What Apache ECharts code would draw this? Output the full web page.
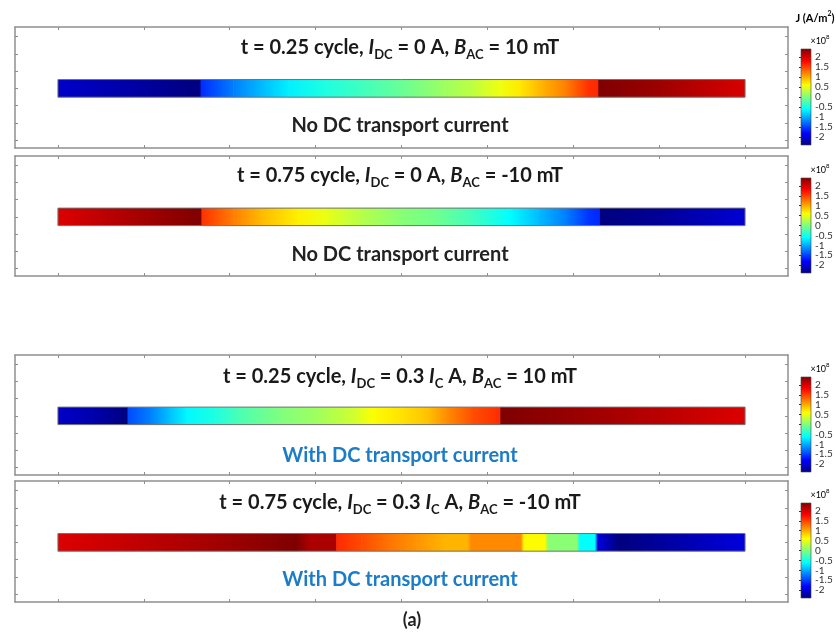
<!DOCTYPE html>
<html>
<head>
<meta charset="utf-8">
<script src="https://cdn.jsdelivr.net/npm/echarts@6/dist/echarts.min.js"></script>
<style>html,body{margin:0;padding:0;background:#fff}#c{width:836px;height:633px}</style>
</head>
<body>
<div id="c"></div>
<script>
// ---------- data (current density J, unit 1e8 A/m^2, along the tape width) ----------
const xTicks = [0, 1, 2, 3, 4, 5, 6, 7, 8];
const yTicks = [-3, -2, -1, 0, 1, 2, 3];
const cbTicks = [-2, -1.5, -1, -0.5, 0, 0.5, 1, 1.5, 2];
const J_MIN = -2.4, J_MAX = 2.4;

const panel1X = [0, 0.86, 1.66, 1.66, 2.04, 2.36, 2.68, 3.11, 3.54, 4.08, 4.51, 4.83, 5.15, 5.37, 5.64, 5.91, 6.17, 6.29, 6.29, 7.03, 8];
const panel1J = [-2.05, -2.22, -2.4, -1.6, -1.2, -0.93, -0.67, -0.46, -0.3, -0.07, 0.15, 0.3, 0.53, 0.7, 0.96, 1.2, 1.57, 1.62, 2.4, 2.25, 1.98];

const panel2X = [0, 0.86, 1.67, 1.67, 2.04, 2.36, 2.79, 3.11, 3.54, 3.97, 4.4, 4.83, 5.26, 5.58, 5.91, 6.17, 6.31, 6.31, 7.03, 8];
const panel2J = [1.96, 2.2, 2.4, 1.57, 1.2, 0.93, 0.67, 0.5, 0.25, 0.05, -0.07, -0.3, -0.6, -0.9, -1.2, -1.55, -1.62, -2.4, -2.28, -2.0];

const panel3X = [0, 0.43, 0.81, 0.81, 1.07, 1.29, 1.5, 1.83, 2.15, 2.58, 3.0, 3.44, 3.65, 3.97, 4.3, 4.51, 4.83, 5.1, 5.15, 5.15, 6.23, 8];
const panel3J = [-2.06, -2.2, -2.4, -1.45, -1.2, -0.9, -0.63, -0.46, -0.22, 0.0, 0.15, 0.38, 0.58, 0.72, 0.88, 1.12, 1.43, 1.57, 1.6, 2.4, 2.25, 1.96];

const panel4X = [0, 0.86, 1.93, 2.78, 2.92, 3.24, 3.24, 3.53, 3.85, 4.17, 4.5, 4.77, 4.8, 5.39, 5.42, 5.67, 5.7, 6.04, 6.07, 6.25, 6.28, 6.53, 8];
const panel4J = [1.96, 2.08, 2.25, 2.4, 2.2, 2.2, 1.6, 1.45, 1.25, 1.1, 0.95, 0.95, 1.15, 1.15, 0.62, 0.62, 0.05, 0.05, -0.6, -0.6, -1.95, -2.4, -1.96];

const titles = [
  '{n|t = 0.25 cycle, }{i|I}{s|DC}{n| = 0 A, }{i|B}{s|AC}{n| = 10 mT}',
  '{n|t = 0.75 cycle, }{i|I}{s|DC}{n| = 0 A, }{i|B}{s|AC}{n| = -10 mT}',
  '{n|t = 0.25 cycle, }{i|I}{s|DC}{n| = 0.3 }{i|I}{s|C}{n| A, }{i|B}{s|AC}{n| = 10 mT}',
  '{n|t = 0.75 cycle, }{i|I}{s|DC}{n| = 0.3 }{i|I}{s|C}{n| A, }{i|B}{s|AC}{n| = -10 mT}'
];
const subtitles = ['No DC transport current', 'No DC transport current', 'With DC transport current', 'With DC transport current'];

// ---------- styling / layout ----------
const JET = ['#00007F', '#0000FF', '#007FFF', '#00FFFF', '#7FFF7F', '#FFFF00', '#FF7F00', '#FF0000', '#7F0000'];
const FONT = 'Lato';
const FRAME = '#8f8f8f';
const TICK = '#8f8f8f';
const X_MIN = -0.5, X_MAX = 8.5, Y_MIN = -3.45, Y_MAX = 3.55;
const STRIP_HALF = 0.51;
const panels = [
  { top: 27, height: 121, cbTop: 49, cbH: 96, tY: 48, sY: 126, X: panel1X, J: panel1J },
  { top: 156, height: 120, cbTop: 178, cbH: 95, tY: 176, sY: 255, X: panel2X, J: panel2J },
  { top: 355, height: 120, cbTop: 377, cbH: 95, tY: 377, sY: 456, X: panel3X, J: panel3J },
  { top: 481, height: 121, cbTop: 503, cbH: 95, tY: 503, sY: 580, X: panel4X, J: panel4J }
];
const subColors = ['#222', '#222', '#1C7CC8', '#1C7CC8'];

function jet(v) {
  const t = Math.max(0, Math.min(1, (v - J_MIN) / (J_MAX - J_MIN)));
  return echarts.color.lerp(t, JET);
}

const grids = [], xAxes = [], yAxes = [], series = [], graphics = [];

function frameAxisCommon(ticks) {
  return {
    axisLine: { show: true, onZero: false, lineStyle: { color: FRAME, width: 1.5 } },
    axisTick: { show: true, inside: true, length: 3, customValues: ticks, lineStyle: { color: TICK, width: 1 } },
    axisLabel: { show: false },
    splitLine: { show: false }
  };
}

panels.forEach((p, i) => {
  grids.push({ left: 15, width: 773, top: p.top, height: p.height });
  xAxes.push(Object.assign({ type: 'value', gridIndex: i, position: 'bottom', min: X_MIN, max: X_MAX }, frameAxisCommon(xTicks)));
  xAxes.push(Object.assign({ type: 'value', gridIndex: i, position: 'top', min: X_MIN, max: X_MAX }, frameAxisCommon(xTicks)));
  yAxes.push(Object.assign({ type: 'value', gridIndex: i, position: 'left', min: Y_MIN, max: Y_MAX }, frameAxisCommon(yTicks)));
  yAxes.push(Object.assign({ type: 'value', gridIndex: i, position: 'right', min: Y_MIN, max: Y_MAX }, frameAxisCommon(yTicks)));

  const segs = [];
  for (let k = 0; k < p.X.length - 1; k++) segs.push([p.X[k], p.X[k + 1], p.J[k], p.J[k + 1]]);
  series.push({
    type: 'custom', xAxisIndex: 2 * i, yAxisIndex: 2 * i, silent: true,
    encode: { x: [0, 1], y: [2, 3] },
    data: segs,
    renderItem: function (params, api) {
      const x0 = api.value(0), x1 = api.value(1);
      if (x1 <= x0) return null;
      const a = api.coord([x0, STRIP_HALF]), b = api.coord([x1, -STRIP_HALF]);
      const last = params.dataIndex === params.dataInsideLength - 1;
      return {
        type: 'rect',
        shape: { x: a[0], y: a[1], width: b[0] - a[0] + (last ? 0 : 0.6), height: b[1] - a[1] },
        style: {
          fill: new echarts.graphic.LinearGradient(0, 0, 1, 0, [
            { offset: 0, color: jet(api.value(2)) }, { offset: 1, color: jet(api.value(3)) }
          ])
        }
      };
    }
  });
  series.push({
    type: 'custom', xAxisIndex: 2 * i, yAxisIndex: 2 * i, silent: true, z: 5,
    encode: { x: [0, 1], y: [] },
    data: [[p.X[0], p.X[p.X.length - 1]]],
    renderItem: function (params, api) {
      const a = api.coord([api.value(0), STRIP_HALF]), b = api.coord([api.value(1), -STRIP_HALF]);
      return {
        type: 'rect',
        shape: { x: a[0], y: a[1], width: b[0] - a[0], height: b[1] - a[1] },
        style: { fill: 'none', stroke: '#707070', lineWidth: 1 }
      };
    }
  });

  graphics.push({
    type: 'text', x: 400, y: p.tY, silent: true,
    style: {
      text: titles[i], align: 'center', verticalAlign: 'middle', fill: '#1a1a1a',
      rich: {
        n: { fontFamily: FONT, fontSize: 20, fontWeight: 'bold', lineHeight: 26, color: '#1a1a1a' },
        i: { fontFamily: FONT, fontSize: 20, fontWeight: 'bold', fontStyle: 'italic', lineHeight: 26, color: '#1a1a1a' },
        s: { fontFamily: FONT, fontSize: 13, fontWeight: 'bold', lineHeight: 13, verticalAlign: 'bottom', color: '#1a1a1a' }
      }
    }
  });
  graphics.push({
    type: 'text', x: 400, y: p.sY, silent: true,
    style: { text: subtitles[i], align: 'center', verticalAlign: 'middle', fill: subColors[i], fontFamily: FONT, fontSize: 20, fontWeight: 'bold' }
  });
  graphics.push({
    type: 'text', x: 820, y: p.cbTop - 9, silent: true,
    style: {
      text: '{a|×10}{b|8}', align: 'center', verticalAlign: 'middle',
      rich: {
        a: { fontFamily: FONT, fontSize: 9, color: '#444', lineHeight: 12, verticalAlign: 'bottom' },
        b: { fontFamily: FONT, fontSize: 6, color: '#444', lineHeight: 12, verticalAlign: 'top' }
      }
    }
  });
});

panels.forEach((p, j) => {
  const g = 4 + j;
  const ax = 8 + j;
  grids.push({ left: 801, width: 10, top: p.cbTop, height: p.cbH });
  xAxes.push({ type: 'value', gridIndex: g, min: 0, max: 1, show: false });
  yAxes.push({
    type: 'value', gridIndex: g, position: 'right', min: J_MIN, max: J_MAX,
    axisLine: { show: false },
    axisTick: { show: true, inside: true, length: 2, customValues: cbTicks, lineStyle: { color: '#333', width: 1 } },
    axisLabel: { show: true, customValues: cbTicks, margin: 4, fontSize: 10, fontFamily: FONT, color: '#333' },
    splitLine: { show: false }
  });
  series.push({
    type: 'custom', xAxisIndex: ax, yAxisIndex: ax, silent: true, z: 1,
    encode: { x: [0, 2], y: [1, 3] },
    data: [[0, J_MIN, 1, J_MAX]],
    renderItem: function (params, api) {
      const a = api.coord([api.value(0), api.value(3)]), b = api.coord([api.value(2), api.value(1)]);
      return {
        type: 'rect',
        shape: { x: a[0], y: a[1], width: b[0] - a[0], height: b[1] - a[1] },
        style: {
          fill: new echarts.graphic.LinearGradient(0, 1, 0, 0, JET.map((c, k) => ({ offset: k / (JET.length - 1), color: c }))),
          stroke: '#444', lineWidth: 0.6
        }
      };
    }
  });
});

graphics.push({
  type: 'text', x: 815, y: 17, silent: true,
  style: {
    text: '{a|J (A/m}{b|2}{a|)}', align: 'center', verticalAlign: 'middle',
    rich: {
      a: { fontFamily: FONT, fontSize: 11, fontWeight: 'bold', color: '#222', lineHeight: 14, verticalAlign: 'bottom' },
      b: { fontFamily: FONT, fontSize: 7, fontWeight: 'bold', color: '#222', lineHeight: 14, verticalAlign: 'top' }
    }
  }
});
graphics.push({
  type: 'text', x: 412, y: 620, silent: true,
  style: { text: '(a)', align: 'center', verticalAlign: 'middle', fill: '#222', fontFamily: FONT, fontSize: 18, fontWeight: 'bold' }
});

const chart = echarts.init(document.getElementById('c'), null, { renderer: 'canvas' });
chart.setOption({
  animation: false,
  backgroundColor: '#fff',
  grid: grids, xAxis: xAxes, yAxis: yAxes, series: series, graphic: graphics
});
</script>
</body>
</html>
